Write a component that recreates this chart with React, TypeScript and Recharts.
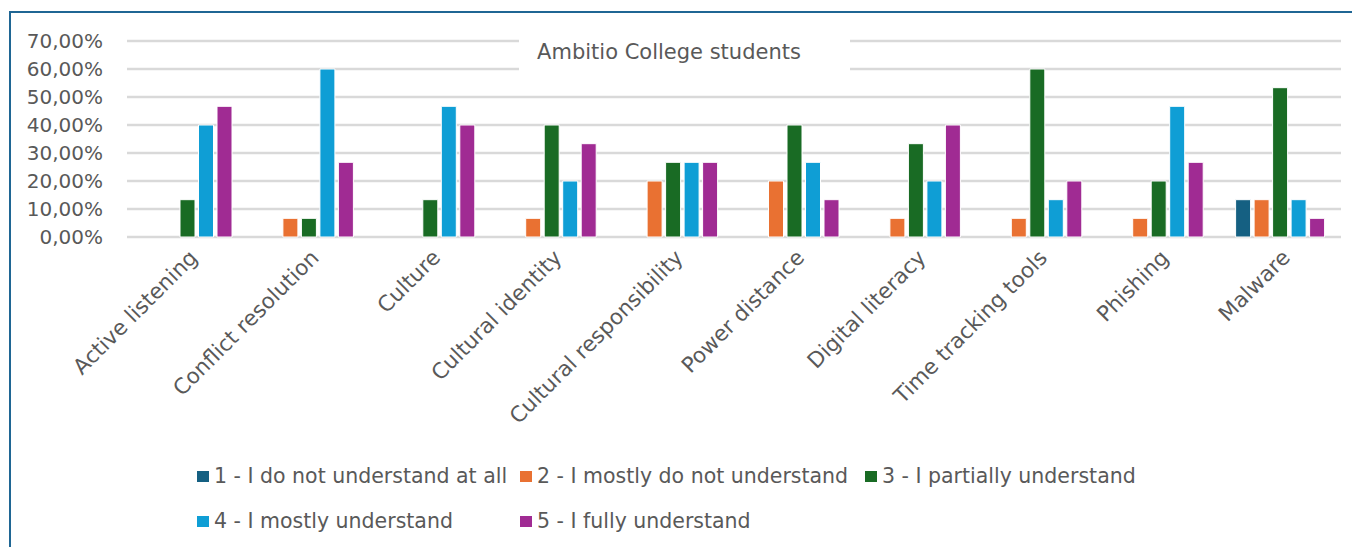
import React from "react";
import { BarChart, Bar, XAxis, YAxis, CartesianGrid } from "recharts";

const categories = [
  "Active listening",
  "Conflict resolution",
  "Culture",
  "Cultural identity",
  "Cultural responsibility",
  "Power distance",
  "Digital literacy",
  "Time tracking tools",
  "Phishing",
  "Malware",
];

const seriesNames = [
  "1 - I do not understand at all",
  "2 - I mostly do not understand",
  "3 - I partially understand",
  "4 - I mostly understand",
  "5 - I fully understand",
];

const seriesColors = ["#156082", "#E97132", "#196B24", "#0F9ED5", "#A02B93"];

// percentages per category, in the order of categories
const level1 = [0, 0, 0, 0, 0, 0, 0, 0, 0, 13.33];
const level2 = [0, 6.67, 0, 6.67, 20, 20, 6.67, 6.67, 6.67, 13.33];
const level3 = [13.33, 6.67, 13.33, 40, 26.67, 40, 33.33, 60, 20, 53.33];
const level4 = [40, 60, 46.67, 20, 26.67, 26.67, 20, 13.33, 46.67, 13.33];
const level5 = [46.67, 26.67, 40, 33.33, 26.67, 13.33, 40, 20, 26.67, 6.67];

const yTicks = [0, 10, 20, 30, 40, 50, 60, 70];

const seriesValues = [level1, level2, level3, level4, level5];
const data = categories.map((name, i) => {
  const row: Record<string, string | number> = { name };
  seriesValues.forEach((vals, s) => {
    row[`s${s}`] = vals[i];
  });
  return row;
});

const FONT = "'DejaVu Sans', sans-serif";
const TEXT = "#595959";

const formatPct = (v: number) => `${v.toFixed(2).replace(".", ",")}%`;

function CategoryTick(props: any) {
  const { x, y, payload } = props;
  return (
    <g transform={`translate(${x + 11},${y + 14})`}>
      <text
        x={0}
        y={0}
        textAnchor="end"
        transform="rotate(-45)"
        fill={TEXT}
        fontSize={21.5}
        fontFamily={FONT}
      >
        {payload.value}
      </text>
    </g>
  );
}

// legend layout mirrors the two-row arrangement of the original
const legendSlots = [
  { left: 197, top: 465 },
  { left: 520, top: 465 },
  { left: 865, top: 465 },
  { left: 197, top: 510 },
  { left: 520, top: 510 },
];

export default function App() {
  return (
    <div
      style={{
        position: "relative",
        margin: "-8px 0 0 -8px",
        width: 1360,
        height: 547,
        overflow: "hidden",
        background: "#fff",
        fontFamily: FONT,
      }}
    >
      <div
        style={{
          position: "absolute",
          left: 9,
          top: 11,
          width: 1500,
          height: 700,
          borderLeft: "2px solid #1f6694",
          borderTop: "2px solid #1f6694",
        }}
      />
      <BarChart
        width={1360}
        height={547}
        data={data}
        margin={{ top: 41, right: 19, left: 0, bottom: 0 }}
        barSize={15}
        barGap={3.5}
        style={{ position: "absolute", left: 0, top: 0 }}
      >
        <CartesianGrid vertical={false} stroke="#d9d9d9" strokeWidth={2.5} />
        <XAxis
          dataKey="name"
          height={310}
          axisLine={false}
          tickLine={false}
          interval={0}
          tick={<CategoryTick />}
        />
        <YAxis
          width={127}
          domain={[0, 70]}
          ticks={yTicks}
          interval={0}
          tickFormatter={formatPct}
          axisLine={false}
          tickLine={false}
          tickMargin={18}
          tick={{ fill: TEXT, fontSize: 20, fontFamily: FONT }}
        />
        {seriesNames.map((n, s) => (
          <Bar
            key={n}
            dataKey={`s${s}`}
            name={n}
            fill={seriesColors[s]}
            stroke="#ffffff"
            strokeWidth={1}
            isAnimationActive={false}
          />
        ))}
      </BarChart>
      <div
        style={{
          position: "absolute",
          left: 519,
          top: 34,
          width: 331,
          height: 60,
          background: "#fff",
        }}
      >
        <div
          style={{
            position: "absolute",
            left: 0,
            width: 300,
            top: 6,
            textAlign: "center",
            fontSize: 21,
            color: TEXT,
            lineHeight: "24px",
          }}
        >
          Ambitio College students
        </div>
      </div>
      {seriesNames.map((n, s) => (
        <div
          key={n}
          style={{
            position: "absolute",
            left: legendSlots[s].left,
            top: legendSlots[s].top,
            display: "flex",
            alignItems: "center",
            fontSize: 20.5,
            color: TEXT,
            lineHeight: "22px",
            whiteSpace: "nowrap",
          }}
        >
          <span
            style={{
              display: "inline-block",
              width: 12,
              height: 11,
              background: seriesColors[s],
              marginRight: 5,
            }}
          />
          {n}
        </div>
      ))}
    </div>
  );
}
